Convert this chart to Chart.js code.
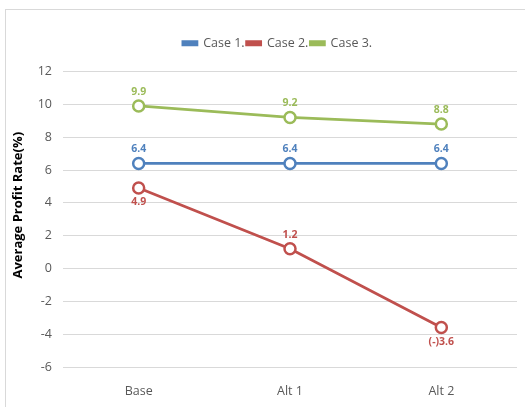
<!DOCTYPE html>
<html>
<head>
<meta charset="utf-8">
<script src="https://cdn.jsdelivr.net/npm/chart.js@4"></script>
<style>
  body { margin: 0; background: #fff; }
  #frame { position: absolute; left: 5px; top: 9px; width: 540px; height: 420px; border: 1px solid #d9d9d9; }
  #wrap { position: absolute; left: 0; top: 0; width: 525px; height: 407px; }
</style>
</head>
<body>
<div id="frame"></div>
<div id="wrap"><canvas id="myChart"></canvas></div>
<script>
// data
var categories = ['Base', 'Alt 1', 'Alt 2'];
var case1 = [6.4, 6.4, 6.4];
var case2 = [4.9, 1.2, -3.6];
var case3 = [9.9, 9.2, 8.8];
var yTicks = [-6, -4, -2, 0, 2, 4, 6, 8, 10, 12];

var FONT = "'Open Sans', 'Noto Sans', sans-serif";

// where each value label sits: -1 above the point, 1 below
var labelSide = [
    [-1, -1, -1],
    [1, -1, 1],
    [-1, -1, -1]
];

function fmt(v) {
    return v < 0 ? '(-)' + Math.abs(v).toFixed(1) : v.toFixed(1);
}

var valueLabels = {
    id: 'valueLabels',
    afterDatasetsDraw: function (chart) {
        var ctx = chart.ctx;
        ctx.save();
        ctx.font = 'bold 10.5px ' + FONT;
        ctx.textAlign = 'center';
        ctx.textBaseline = 'middle';
        chart.data.datasets.forEach(function (ds, di) {
            var meta = chart.getDatasetMeta(di);
            meta.data.forEach(function (pt, i) {
                ctx.fillStyle = ds.borderColor;
                ctx.fillText(fmt(ds.data[i]), pt.x, pt.y + labelSide[di][i] * 14);
            });
        });
        ctx.restore();
    }
};

var yTitle = {
    id: 'yTitle',
    afterDraw: function (chart) {
        var ctx = chart.ctx, a = chart.chartArea;
        ctx.save();
        ctx.translate(18, (a.top + a.bottom) / 2 - 14);
        ctx.rotate(-Math.PI / 2);
        ctx.font = 'bold 13px ' + FONT;
        ctx.fillStyle = '#000';
        ctx.textAlign = 'center';
        ctx.textBaseline = 'middle';
        ctx.fillText('Average Profit Rate(%)', 0, 0);
        ctx.restore();
    }
};

// nudge legend right and up, like the original
var legendShift = {
    id: 'legendShift',
    afterLayout: function (chart) {
        chart.legend.left += 15;
        chart.legend.right += 15;
        chart.legend.top -= 12;
        chart.legend.bottom -= 12;
    }
};

function line(label, data, color) {
    return {
        label: label,
        data: data,
        borderColor: color,
        backgroundColor: color,
        borderWidth: 2.8,
        pointRadius: 5.5,
        pointBorderWidth: 2.5,
        pointBackgroundColor: '#fff',
        pointBorderColor: color,
        tension: 0
    };
}

var ctx = document.getElementById('myChart').getContext('2d');
var chart = new Chart(ctx, {
    type: 'line',
    data: {
        labels: categories,
        datasets: [
            line('Case 1.', case1, '#4F81BD'),
            line('Case 2.', case2, '#C0504D'),
            line('Case 3.', case3, '#9BBB59')
        ]
    },
    options: {
        responsive: true,
        maintainAspectRatio: false,
        animation: false,
        layout: { padding: { top: 47, left: 0, right: 0, bottom: 0 } },
        plugins: {
            legend: {
                position: 'top',
                labels: {
                    boxWidth: 14,
                    boxHeight: 3,
                    padding: 2,
                    color: '#595959',
                    font: { family: FONT, size: 12.5 }
                }
            },
            tooltip: { enabled: false }
        },
        scales: {
            x: {
                offset: true,
                grid: { display: false },
                border: { display: false },
                ticks: { color: '#595959', padding: 9, font: { family: FONT, size: 12.5 } },
                afterFit: function (s) { s.height = 40; }
            },
            y: {
                min: -6,
                max: 12,
                afterBuildTicks: function (s) { s.ticks = yTicks.map(function (v) { return { value: v }; }); },
                grid: { color: '#d9d9d9', drawTicks: false },
                border: { display: false },
                ticks: { color: '#595959', padding: 11, font: { family: FONT, size: 12.5 } },
                afterFit: function (s) { s.width = 63; }
            }
        }
    },
    plugins: [valueLabels, yTitle, legendShift]
});
</script>
</body>
</html>
